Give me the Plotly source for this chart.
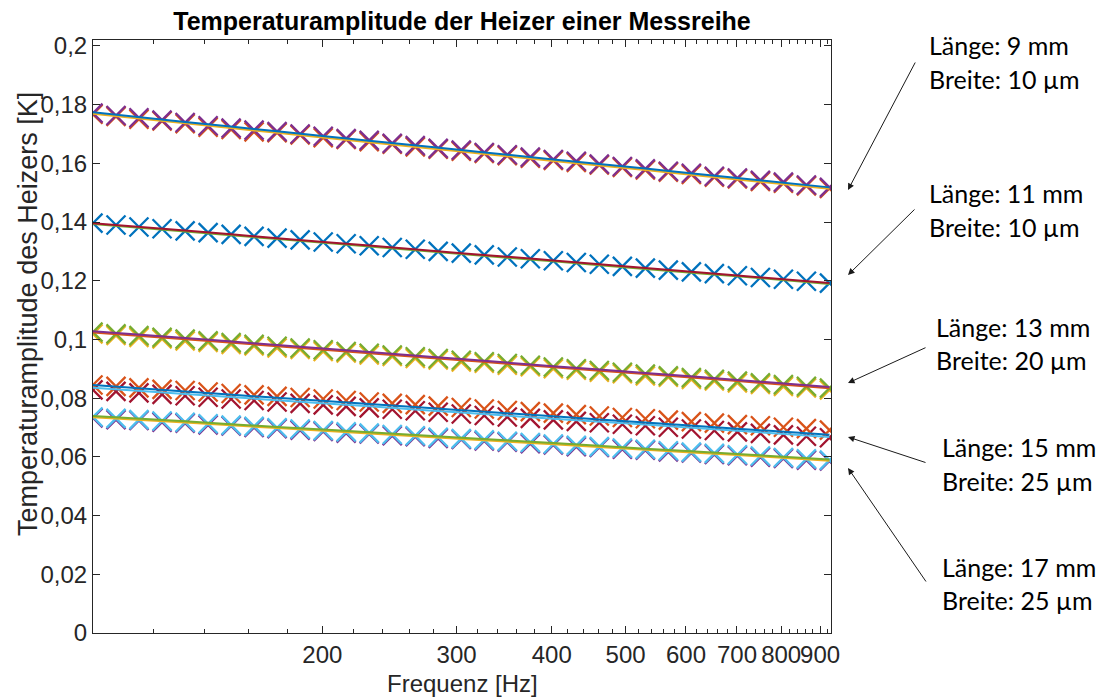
import plotly.graph_objects as go

# ---------------- data ----------------
freq_hz = [100, 107.2, 114.9, 123.2, 132.1, 141.6, 151.8, 162.7, 174.4, 187.0,
           200.5, 214.9, 230.4, 247.0, 264.8, 283.8, 304.3, 326.2, 349.7, 374.9,
           401.9, 430.8, 461.8, 495.1, 530.7, 568.9, 609.9, 653.8, 700.9, 751.4,
           805.5, 863.5, 925.7]
fit_freq_hz = [100, 132.1, 174.4, 230.4, 304.3, 401.9, 530.7, 700.9, 925.7]

# 9 mm / 10 um
g1_meas_a = [0.1767, 0.1760, 0.1750, 0.1744, 0.1735, 0.1723, 0.1715, 0.1707, 0.1704, 0.1697,
             0.1687, 0.1681, 0.1674, 0.1665, 0.1656, 0.1648, 0.1641, 0.1634, 0.1626, 0.1617,
             0.1610, 0.1603, 0.1594, 0.1586, 0.1577, 0.1570, 0.1562, 0.1553, 0.1547, 0.1538,
             0.1532, 0.1523, 0.1514]
g1_meas_b = [0.1771, 0.1763, 0.1755, 0.1747, 0.1739, 0.1728, 0.1720, 0.1713, 0.1708, 0.1700,
             0.1692, 0.1684, 0.1678, 0.1668, 0.1660, 0.1651, 0.1645, 0.1637, 0.1629, 0.1621,
             0.1613, 0.1607, 0.1597, 0.1589, 0.1581, 0.1573, 0.1566, 0.1556, 0.1550, 0.1542,
             0.1536, 0.1526, 0.1518]
g1_fit_a = [0.1769, 0.1736, 0.1704, 0.1672, 0.1640, 0.1608, 0.1577, 0.1545, 0.1513]
g1_fit_b = [0.1774, 0.1741, 0.1709, 0.1677, 0.1645, 0.1613, 0.1582, 0.1550, 0.1518]

# 11 mm / 10 um
g2_meas = [0.1396, 0.1390, 0.1383, 0.1377, 0.1370, 0.1364, 0.1358, 0.1351, 0.1345, 0.1339,
           0.1332, 0.1326, 0.1319, 0.1313, 0.1307, 0.1300, 0.1294, 0.1288, 0.1281, 0.1275,
           0.1268, 0.1262, 0.1256, 0.1249, 0.1243, 0.1236, 0.1230, 0.1224, 0.1217, 0.1211,
           0.1205, 0.1198, 0.1192]
g2_fit_a = [0.1393, 0.1368, 0.1342, 0.1317, 0.1291, 0.1266, 0.1240, 0.1215, 0.1189]
g2_fit_b = [0.1396, 0.1371, 0.1345, 0.1320, 0.1294, 0.1269, 0.1243, 0.1218, 0.1192]

# 13 mm / 20 um
g3_meas_a = [0.1019, 0.1014, 0.1007, 0.1002, 0.0995, 0.0990, 0.0983, 0.0978, 0.0971, 0.0966,
             0.0959, 0.0954, 0.0947, 0.0942, 0.0935, 0.0930, 0.0923, 0.0919, 0.0912, 0.0907,
             0.0900, 0.0895, 0.0888, 0.0883, 0.0876, 0.0871, 0.0864, 0.0859, 0.0852, 0.0847,
             0.0840, 0.0835, 0.0828]
g3_meas_b = [0.1025, 0.1019, 0.1013, 0.1007, 0.1001, 0.0995, 0.0989, 0.0983, 0.0977, 0.0971,
             0.0965, 0.0959, 0.0953, 0.0947, 0.0941, 0.0935, 0.0929, 0.0924, 0.0918, 0.0912,
             0.0906, 0.0900, 0.0894, 0.0888, 0.0882, 0.0876, 0.0870, 0.0864, 0.0858, 0.0852,
             0.0846, 0.0840, 0.0834]
g3_fit_a = [0.1024, 0.1001, 0.0977, 0.0953, 0.0929, 0.0905, 0.0882, 0.0858, 0.0834]
g3_fit_b = [0.1028, 0.1005, 0.0981, 0.0957, 0.0933, 0.0909, 0.0886, 0.0862, 0.0838]

# 15 mm / 25 um
g4_meas_a = [0.0828, 0.0823, 0.0818, 0.0813, 0.0808, 0.0803, 0.0797, 0.0792, 0.0787, 0.0782,
             0.0777, 0.0772, 0.0767, 0.0762, 0.0757, 0.0752, 0.0746, 0.0741, 0.0736, 0.0731,
             0.0726, 0.0721, 0.0716, 0.0711, 0.0706, 0.0701, 0.0695, 0.0690, 0.0685, 0.0680,
             0.0675, 0.0670, 0.0665]
g4_meas_b = [0.0845, 0.0840, 0.0835, 0.0830, 0.0826, 0.0821, 0.0816, 0.0811, 0.0806, 0.0802,
             0.0797, 0.0792, 0.0787, 0.0782, 0.0778, 0.0773, 0.0768, 0.0763, 0.0758, 0.0754,
             0.0749, 0.0744, 0.0739, 0.0734, 0.0730, 0.0725, 0.0720, 0.0715, 0.0710, 0.0706,
             0.0701, 0.0696, 0.0691]
g4_fit_a = [0.0835, 0.0814, 0.0793, 0.0772, 0.0751, 0.0730, 0.0710, 0.0689, 0.0668]
g4_fit_b = [0.0845, 0.0823, 0.0801, 0.0780, 0.0759, 0.0738, 0.0717, 0.0696, 0.0675]

# 17 mm / 25 um
g5_meas_a = [0.0733, 0.0727, 0.0724, 0.0718, 0.0715, 0.0709, 0.0705, 0.0700, 0.0696, 0.0691,
             0.0687, 0.0681, 0.0678, 0.0672, 0.0669, 0.0663, 0.0659, 0.0654, 0.0650, 0.0645,
             0.0641, 0.0635, 0.0632, 0.0626, 0.0623, 0.0617, 0.0613, 0.0608, 0.0604, 0.0599,
             0.0595, 0.0589, 0.0586]
g5_meas_b = [0.0736, 0.0731, 0.0727, 0.0722, 0.0718, 0.0713, 0.0708, 0.0704, 0.0699, 0.0695,
             0.0690, 0.0685, 0.0681, 0.0676, 0.0672, 0.0667, 0.0662, 0.0658, 0.0653, 0.0649,
             0.0644, 0.0639, 0.0635, 0.0630, 0.0626, 0.0621, 0.0616, 0.0612, 0.0607, 0.0603,
             0.0598, 0.0593, 0.0589]
g5_fit_a = [0.0735, 0.0717, 0.0698, 0.0680, 0.0661, 0.0643, 0.0624, 0.0606, 0.0587]
g5_fit_b = [0.0739, 0.0721, 0.0702, 0.0684, 0.0665, 0.0647, 0.0628, 0.0610, 0.0591]

x_tick_vals = [200, 300, 400, 500, 600, 700, 800, 900]
x_tick_text = ["200", "300", "400", "500", "600", "700", "800", "900"]
x_minor_vals = [120, 140, 160, 180, 220, 240, 260, 280, 320, 340, 360, 380,
                420, 440, 460, 480, 520, 540, 560, 580, 620, 640, 660, 680,
                720, 740, 760, 780, 820, 840, 860, 880, 920]
y_tick_vals = [0, 0.02, 0.04, 0.06, 0.08, 0.1, 0.12, 0.14, 0.16, 0.18, 0.2]
y_tick_text = ["0", "0,02", "0,04", "0,06", "0,08", "0,1", "0,12", "0,14", "0,16", "0,18", "0,2"]

labels = [
    ("Länge: 9 mm", "Breite: 10 µm"),
    ("Länge: 11 mm", "Breite: 10 µm"),
    ("Länge: 13 mm", "Breite: 20 µm"),
    ("Länge: 15 mm", "Breite: 25 µm"),
    ("Länge: 17 mm", "Breite: 25 µm"),
]

# ---------------- styling / layout ----------------
W, H = 1103, 698
L, R, T, B = 93, 831, 40, 633
C_BLUE, C_ORANGE, C_YELLOW = "#0072BD", "#D95319", "#EDB120"
C_PURPLE, C_GREEN, C_LBLUE, C_DRED = "#7E2F8E", "#77AC30", "#4DBEEE", "#A2142F"
AX = "#262626"

def px(xp):
    return (xp - L) / (R - L)

def py(yp):
    return (B - yp) / (B - T)

fig = go.Figure()

marker_sets = [
    (g1_meas_a, C_ORANGE), (g1_meas_b, C_PURPLE),
    (g2_meas, C_BLUE),
    (g3_meas_a, C_YELLOW), (g3_meas_b, C_GREEN),
    (g4_meas_a, C_DRED), (g4_meas_b, C_ORANGE),
    (g5_meas_a, C_PURPLE), (g5_meas_b, C_LBLUE),
]
for vals, col in marker_sets:
    fig.add_trace(go.Scatter(
        x=freq_hz, y=vals, mode="markers",
        marker=dict(symbol="x-thin", size=19, color=col, line=dict(color=col, width=2.3)),
        showlegend=False, hoverinfo="skip"))

line_sets = [
    (g1_fit_a, C_YELLOW), (g1_fit_b, C_BLUE),
    (g2_fit_a, C_GREEN), (g2_fit_b, C_DRED),
    (g3_fit_a, C_ORANGE), (g3_fit_b, C_PURPLE),
    (g4_fit_a, C_LBLUE), (g4_fit_b, C_BLUE),
    (g5_fit_a, C_YELLOW), (g5_fit_b, C_GREEN),
]
for vals, col in line_sets:
    fig.add_trace(go.Scatter(
        x=fit_freq_hz, y=vals, mode="lines", line=dict(color=col, width=2, shape="spline"),
        showlegend=False, hoverinfo="skip"))

font_main = "Liberation Sans, Arial, Helvetica, sans-serif"
font_note = "Lato, Calibri, Carlito, sans-serif"

annotations = []
text_pos = [(927, 45, 79), (927, 193, 227), (934, 327, 360), (940, 447, 481), (940, 567, 600)]
for (l1, l2), (xl, y1, y2) in zip(labels, text_pos):
    for txt, yy in ((l1, y1), (l2, y2)):
        annotations.append(dict(
            xref="paper", yref="paper", x=px(xl), y=py(yy), text=txt,
            showarrow=False, xanchor="left", yanchor="middle",
            font=dict(family=font_note, size=25, color="black")))

arrows = [((916, 61), (848, 190)), ((916, 208), (848, 275)), ((927, 347), (848, 383)),
          ((927, 463), (848, 437)), ((927, 583), (848, 468))]
for (tx, ty), (hx, hy) in arrows:
    annotations.append(dict(
        xref="paper", yref="paper", x=px(hx), y=py(hy), text="",
        showarrow=True, ax=tx - hx, ay=ty - hy, axref="pixel", ayref="pixel",
        arrowhead=2, arrowsize=1.3, arrowwidth=1, arrowcolor="#1a1a1a", standoff=0))

# axis labels
annotations.append(dict(
    xref="paper", yref="paper", x=px(28), y=py(314), text="Temperaturamplitude des Heizers [K]",
    textangle=-90, showarrow=False, xanchor="center", yanchor="middle",
    font=dict(family=font_main, size=27, color=AX)))
annotations.append(dict(
    xref="paper", yref="paper", x=px(462), y=py(683), text="Frequenz [Hz]",
    showarrow=False, xanchor="center", yanchor="middle",
    font=dict(family=font_main, size=24, color=AX)))

fig.update_layout(
    width=W, height=H,
    margin=dict(l=L, r=W - R, t=T, b=H - B, pad=0, autoexpand=False),
    paper_bgcolor="white", plot_bgcolor="white",
    font=dict(family=font_main, color=AX),
    title=dict(text="<b>Temperaturamplitude der Heizer einer Messreihe</b>",
               xref="container", x=462 / W, xanchor="center",
               yref="container", y=1 - 21 / H, yanchor="middle",
               font=dict(family=font_main, size=25, color="black")),
    annotations=annotations,
    showlegend=False,
)
fig.update_xaxes(
    type="log", range=[2, 2.9685], automargin=False,
    tickmode="array", tickvals=x_tick_vals, ticktext=x_tick_text, tickangle=0,
    ticks="inside", ticklen=7, tickwidth=1, tickcolor=AX,
    minor=dict(tickmode="array", tickvals=x_minor_vals, ticks="inside", ticklen=4,
               tickcolor=AX, tickwidth=1, showgrid=False),
    showline=True, linecolor=AX, linewidth=1, mirror="ticks",
    showgrid=False, zeroline=False,
    tickfont=dict(size=24, color=AX),
)
fig.update_yaxes(
    range=[0, 0.202], automargin=False,
    tickmode="array", tickvals=y_tick_vals, ticktext=y_tick_text,
    ticks="inside", ticklen=7, tickwidth=1, tickcolor=AX,
    showline=True, linecolor=AX, linewidth=1, mirror="ticks",
    showgrid=False, zeroline=False,
    tickfont=dict(size=24, color=AX),
)

fig.write_html("out.html")
